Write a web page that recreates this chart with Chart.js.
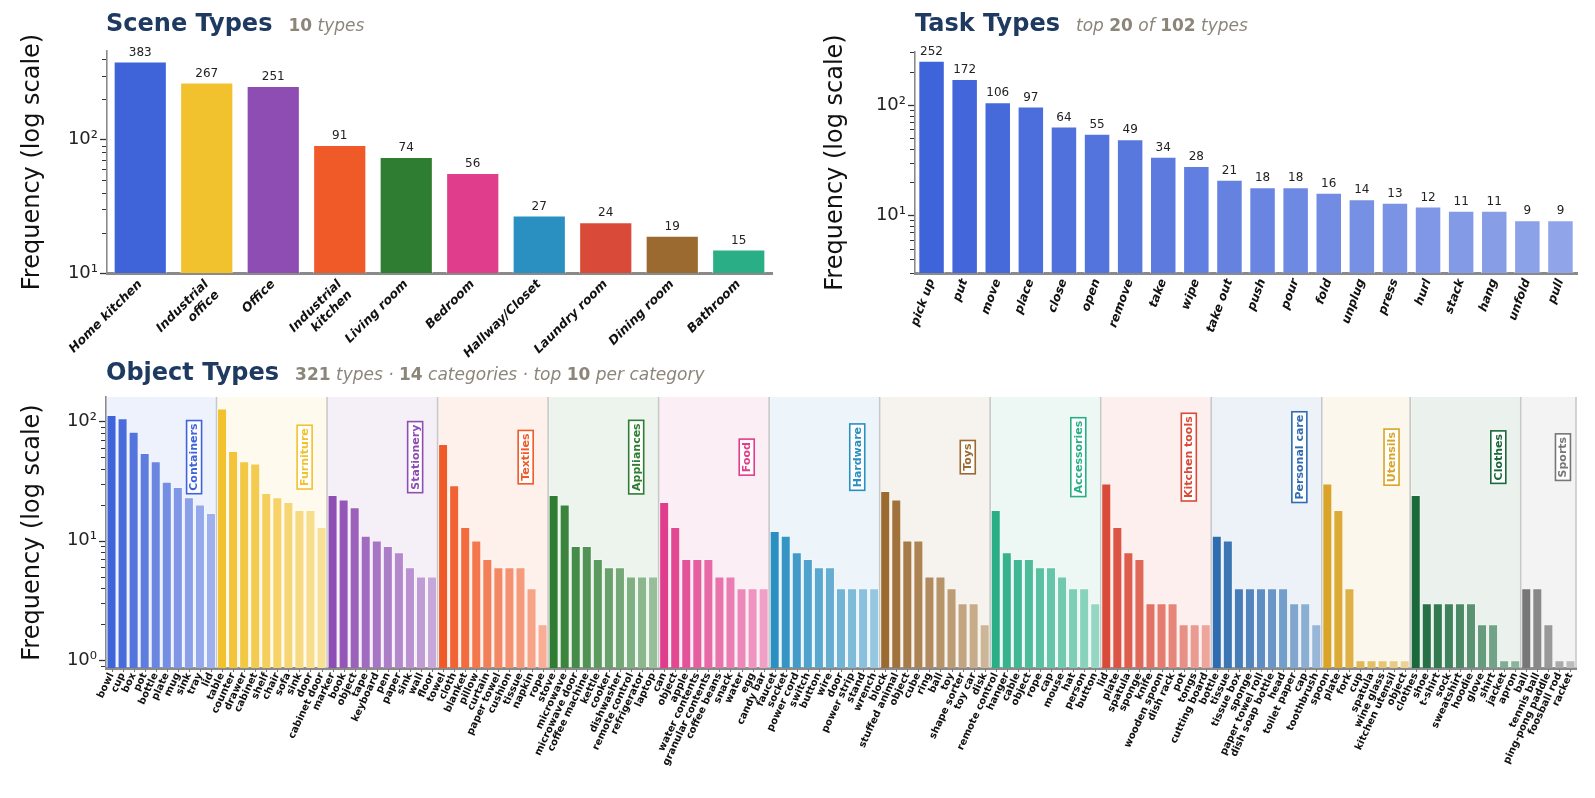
<!DOCTYPE html>
<html><head><meta charset="utf-8">
<script src="https://cdn.jsdelivr.net/npm/chart.js@4.4.1/dist/chart.umd.min.js"></script>
<style>
body{margin:0;background:#fff;width:1595px;height:798px;overflow:hidden;position:relative;font-family:"DejaVu Sans",sans-serif}
canvas{position:absolute}
.title{position:absolute;white-space:nowrap;font-family:"DejaVu Sans";line-height:1;z-index:2}
.title .main{font-weight:bold;font-size:24px;color:#1f3a60}
.title .sub{font-size:17px;color:#8c857a;font-style:italic;margin-left:16px}
.title .sub b{font-style:normal}
</style></head><body>
<canvas id="scene" width="790" height="368" style="left:0;top:0"></canvas>
<canvas id="task" width="805" height="368" style="left:790px;top:0"></canvas>
<canvas id="obj" width="1595" height="453" style="left:0;top:345px"></canvas>
<div class="title" style="left:106px;top:11px"><span class="main">Scene Types</span><span class="sub"><b>10</b> types</span></div>
<div class="title" style="left:915px;top:11px"><span class="main">Task Types</span><span class="sub">top <b>20</b> of <b>102</b> types</span></div>
<div class="title" style="left:106px;top:360px"><span class="main">Object Types</span><span class="sub"><b>321</b> types · <b>14</b> categories · top <b>10</b> per category</span></div>
<script>
// ---------------- DATA ----------------
const sceneLabels = ['Home kitchen', ['Industrial','office'], 'Office', ['Industrial','kitchen'], 'Living room', 'Bedroom', 'Hallway/Closet', 'Laundry room', 'Dining room', 'Bathroom'];
const sceneCounts = [383, 267, 251, 91, 74, 56, 27, 24, 19, 15];
const sceneColors = ['#3f63d9', '#f2c12e', '#8e4db3', '#f05a28', '#2e7d32', '#e03e8c', '#2a8fc1', '#da4a38', '#9b6a30', '#2aae86'];

const taskLabels = ['pick up','put','move','place','close','open','remove','take','wipe','take out','push','pour','fold','unplug','press','hurl','stack','hang','unfold','pull'];
const taskCounts = [252, 172, 106, 97, 64, 55, 49, 34, 28, 21, 18, 18, 16, 14, 13, 12, 11, 11, 9, 9];

const objCategories = ['Containers','Furniture','Stationery','Textiles','Appliances','Food','Hardware','Toys','Accessories','Kitchen tools','Personal care','Utensils','Clothes','Sports'];
const objCategoryColors = ['#3f63d9','#f2c12e','#8e4db3','#f05a28','#2e7d32','#e03e8c','#2a8fc1','#9b6a30','#2aae86','#da4a38','#2f6db0','#d9a428','#19693a','#777777'];

const containersNames = ['bowl','cup','box','pot','bottle','plate','mug','sink','tray','lid'];
const containersCounts = [112, 105, 81, 54, 46, 31, 28, 23, 20, 17];
const furnitureNames = ['table','counter','drawer','cabinet','shelf','chair','sofa','sink','door','cabinet door'];
const furnitureCounts = [127, 56, 46, 44, 25, 23, 21, 18, 18, 13];
const stationeryNames = ['marker','book','object','tape','keyboard','pen','paper','sink','wall','floor'];
const stationeryCounts = [24, 22, 19, 11, 10, 9, 8, 6, 5, 5];
const textilesNames = ['towel','cloth','blanket','pillow','curtain','paper towel','cushion','tissue','napkin','rope'];
const textilesCounts = [64, 29, 13, 10, 7, 6, 6, 6, 4, 2];
const appliancesNames = ['stove','microwave','microwave door','coffee machine','kettle','cooker','dishwasher','remote control','refrigerator','laptop'];
const appliancesCounts = [24, 20, 9, 9, 7, 6, 6, 5, 5, 5];
const foodNames = ['can','object','apple','water contents','granular contents','coffee beans','snack','water','egg','candy bar'];
const foodCounts = [21, 13, 7, 7, 7, 5, 5, 4, 4, 4];
const hardwareNames = ['faucet','socket','power cord','switch','button','wire','door','power strip','stand','wrench'];
const hardwareCounts = [12, 11, 8, 7, 6, 6, 4, 4, 4, 4];
const toysNames = ['block','stuffed animal','object','cube','ring','ball','toy','shape sorter','toy car','disk'];
const toysCounts = [26, 22, 10, 10, 5, 5, 4, 3, 3, 2];
const accessoriesNames = ['remote control','hanger','cable','object','rope','cap','mouse','hat','person','button'];
const accessoriesCounts = [18, 8, 7, 7, 6, 6, 5, 4, 4, 3];
const kitchenToolsNames = ['lid','plate','spatula','sponge','knife','wooden spoon','dish rack','pot','tongs','cutting board'];
const kitchenToolsCounts = [30, 13, 8, 7, 3, 3, 3, 2, 2, 2];
const personalCareNames = ['bottle','tissue','tissue box','sponge','paper towel roll','dish soap bottle','head','toilet paper','cap','toothbrush'];
const personalCareCounts = [11, 10, 4, 4, 4, 4, 4, 3, 3, 2];
const utensilsNames = ['spoon','plate','fork','cup','spatula','wine glass','kitchen utensil','object'];
const utensilsCounts = [30, 18, 4, 1, 1, 1, 1, 1];
const clothesNames = ['clothes','shoe','t-shirt','sock','sweatshirt','hoodie','glove','shirt','jacket','apron'];
const clothesCounts = [24, 3, 3, 3, 3, 3, 2, 2, 1, 1];
const sportsNames = ['ball','tennis ball','ping-pong paddle','foosball rod','racket'];
const sportsCounts = [4, 4, 2, 1, 1];

const objNameLists = [containersNames, furnitureNames, stationeryNames, textilesNames, appliancesNames, foodNames, hardwareNames, toysNames, accessoriesNames, kitchenToolsNames, personalCareNames, utensilsNames, clothesNames, sportsNames];
const objCountLists = [containersCounts, furnitureCounts, stationeryCounts, textilesCounts, appliancesCounts, foodCounts, hardwareCounts, toysCounts, accessoriesCounts, kitchenToolsCounts, personalCareCounts, utensilsCounts, clothesCounts, sportsCounts];

// ---------------- helpers ----------------
function rgb(hex){ return [parseInt(hex.slice(1,3),16), parseInt(hex.slice(3,5),16), parseInt(hex.slice(5,7),16)]; }
function mixWhite(hex, t){ const c = rgb(hex); return 'rgb(' + c.map(v => Math.round(v + (255 - v) * t)).join(',') + ')'; }
function tint(hex, a){ const c = rgb(hex); return 'rgba(' + c.join(',') + ',' + a + ')'; }
const SUP = {'-':'⁻','0':'⁰','1':'¹','2':'²','3':'³','4':'⁴'};
function logLabel(v){ const e = Math.log10(v); const r = Math.round(e); if (Math.abs(e - r) > 1e-6) return ''; return '10' + String(r).split('').map(c => SUP[c]).join(''); }

const FONT = 'DejaVu Sans';

function yOpts(min, max, width){
  return { type:'logarithmic', min, max,
    grid:{display:false, drawTicks:false},
    border:{display:true, color:'#8a8a8a', width:1.6},
    ticks:{autoSkip:false, padding:9, color:'#222', font:{family:FONT, size:18}, callback:(v) => logLabel(v)},
    afterFit(s){ s.width = width; } };
}
function xOpts(rot, font, height, pad){
  return { type:'category', offset:true,
    grid:{display:false, drawTicks:false},
    border:{display:true, color:'#8a8a8a', width:3},
    ticks:{autoSkip:false, minRotation:rot, maxRotation:rot, padding:pad, color:'#111', font},
    afterFit(s){ s.height = height; } };
}

const logTicks = {
  id:'logTicks',
  afterDraw(chart){
    const s = chart.scales.y, ctx = chart.ctx, x = chart.chartArea.left - 1;
    ctx.save(); ctx.strokeStyle = '#333';
    for (let d = -1; d <= 3; d++) for (let m = 1; m <= 9; m++){
      const v = m * Math.pow(10, d);
      if (v < s.min - 1e-9 || v > s.max + 1e-9) continue;
      const y = Math.round(s.getPixelForValue(v)) + 0.5;
      const len = m === 1 ? 6 : 4;
      ctx.lineWidth = m === 1 ? 1.3 : 1;
      ctx.beginPath(); ctx.moveTo(x - len, y); ctx.lineTo(x, y); ctx.stroke();
    }
    ctx.restore();
  }
};
function yTitle(x){
  return { id:'yTitle', afterDraw(chart){
    const ctx = chart.ctx, a = chart.chartArea;
    ctx.save(); ctx.translate(x, (a.top + a.bottom) / 2); ctx.rotate(-Math.PI / 2);
    ctx.font = '24px "' + FONT + '"'; ctx.fillStyle = '#111'; ctx.textAlign = 'center'; ctx.textBaseline = 'middle';
    ctx.fillText('Frequency (log scale)', 0, 0); ctx.restore();
  }};
}
const valueLabels = {
  id:'valueLabels',
  afterDatasetsDraw(chart){
    const ctx = chart.ctx, meta = chart.getDatasetMeta(0), data = chart.data.datasets[0].data;
    ctx.save(); ctx.font = '12px "' + FONT + '"'; ctx.fillStyle = '#222'; ctx.textAlign = 'center'; ctx.textBaseline = 'bottom';
    meta.data.forEach((el, i) => ctx.fillText(String(data[i]), el.x, el.y - 3));
    ctx.restore();
  }
};

const baseOpts = (pad) => ({ responsive:false, animation:false, devicePixelRatio:1, layout:{padding:pad},
  plugins:{legend:{display:false}, tooltip:{enabled:false}} });

// ---------------- Scene chart ----------------
new Chart(document.getElementById('scene'), {
  type:'bar',
  data:{ labels:sceneLabels, datasets:[{ data:sceneCounts, backgroundColor:sceneColors,
    borderColor:'rgba(255,255,255,0.6)', borderWidth:1, barPercentage:0.8, categoryPercentage:1 }]},
  options:Object.assign(baseOpts({left:0, top:51, right:18, bottom:0}), {
    scales:{ x:xOpts(45, {family:FONT, size:12.5, weight:'bold', style:'italic'}, 95, 4),
             y:yOpts(10, 459.6, 107) } }),
  plugins:[logTicks, yTitle(33), valueLabels]
});

// ---------------- Task chart ----------------
const taskColors = taskCounts.map((_, i) => mixWhite('#3f63d9', 0.42 * i / (taskCounts.length - 1)));
new Chart(document.getElementById('task'), {
  type:'bar',
  data:{ labels:taskLabels, datasets:[{ data:taskCounts, backgroundColor:taskColors,
    borderColor:'rgba(255,255,255,0.6)', borderWidth:1, barPercentage:0.8, categoryPercentage:1 }]},
  options:Object.assign(baseOpts({left:0, top:52, right:18, bottom:0}), {
    scales:{ x:xOpts(70, {family:FONT, size:12, weight:'bold', style:'italic'}, 95, 4),
             y:yOpts(3, 302.4, 125) } }),
  plugins:[logTicks, yTitle(46), valueLabels]
});

// ---------------- Object chart ----------------
const objLabels = [], objValues = [], objColors = [], objGroups = [];
objCategories.forEach((cat, g) => {
  const names = objNameLists[g], counts = objCountLists[g], n = counts.length;
  objGroups.push({cat, color:objCategoryColors[g], start:objLabels.length, n});
  counts.forEach((c, i) => {
    objLabels.push(names[i]); objValues.push(c);
    objColors.push(mixWhite(objCategoryColors[g], n > 1 ? 0.5 * i / (n - 1) : 0));
  });
});

const objDecor = {
  id:'objDecor',
  beforeDatasetsDraw(chart){
    const ctx = chart.ctx, a = chart.chartArea, xs = chart.scales.x;
    const slot = xs.width / objLabels.length;
    ctx.save();
    objGroups.forEach(gr => {
      const x0 = xs.getPixelForValue(gr.start) - slot / 2, x1 = x0 + gr.n * slot;
      ctx.fillStyle = tint(gr.color, 0.085);
      ctx.fillRect(x0 + 1, a.top, x1 - x0 - 1, a.bottom - a.top - 1.5);
    });
    ctx.strokeStyle = '#c8c8c8'; ctx.lineWidth = 1.6;
    objGroups.forEach(gr => {
      const x1 = xs.getPixelForValue(gr.start) - slot / 2 + gr.n * slot;
      ctx.beginPath(); ctx.moveTo(x1, a.top); ctx.lineTo(x1, a.bottom); ctx.stroke();
    });
    ctx.restore();
  },
  afterDatasetsDraw(chart){
    const ctx = chart.ctx, xs = chart.scales.x, ys = chart.scales.y;
    ctx.save();
    ctx.font = 'bold 11px "' + FONT + '"';
    objGroups.forEach(gr => {
      const x = xs.getPixelForValue(gr.start) + 0.83 * (gr.n - 1) * (xs.width / objLabels.length);
      const y = ys.getPixelForValue(50);
      const w = ctx.measureText(gr.cat).width;
      ctx.save(); ctx.translate(x, y); ctx.rotate(-Math.PI / 2);
      ctx.fillStyle = 'rgba(255,255,255,0.92)';
      ctx.fillRect(-w / 2 - 3, -7.5, w + 6, 15);
      ctx.strokeStyle = gr.color; ctx.lineWidth = 1.6;
      ctx.strokeRect(-w / 2 - 3, -7.5, w + 6, 15);
      ctx.fillStyle = gr.color; ctx.textAlign = 'center'; ctx.textBaseline = 'middle';
      ctx.fillText(gr.cat, 0, 0.5);
      ctx.restore();
    });
    const a = chart.chartArea;
    ctx.strokeStyle = '#777'; ctx.lineWidth = 1;
    for (let i = 0; i < objLabels.length; i++){
      const x = Math.round(xs.getPixelForValue(i)) + 0.5;
      ctx.beginPath(); ctx.moveTo(x, a.bottom + 1); ctx.lineTo(x, a.bottom + 4); ctx.stroke();
    }
    ctx.restore();
  }
};

new Chart(document.getElementById('obj'), {
  type:'bar',
  data:{ labels:objLabels, datasets:[{ data:objValues, backgroundColor:objColors,
    borderColor:'rgba(255,255,255,0.45)', borderWidth:0.8, barPercentage:0.87, categoryPercentage:1 }]},
  options:Object.assign(baseOpts({left:0, top:52, right:19, bottom:0}), {
    scales:{ x:xOpts(65, {family:FONT, size:10, weight:'bold'}, 130, 3),
             y:yOpts(0.865, 159, 106) } }),
  plugins:[objDecor, logTicks, yTitle(33)]
});
</script>
</body></html>
